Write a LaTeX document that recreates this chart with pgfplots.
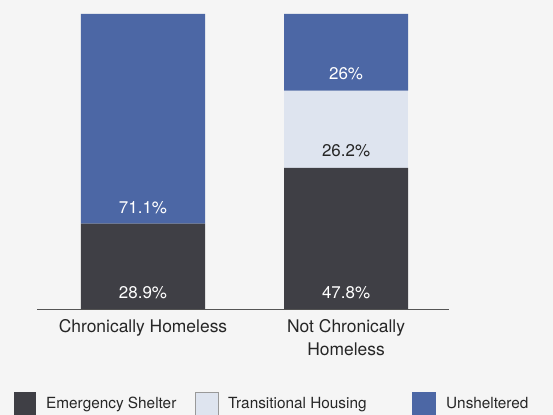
\documentclass[border=0pt]{standalone}
\usepackage{fontspec}
\setmainfont{TeX Gyre Heros}
\usepackage{pgfplots}
\pgfplotsset{compat=1.18}

\definecolor{shelter}{HTML}{3F3F45}
\definecolor{transit}{HTML}{DEE4EF}
\definecolor{unshelt}{HTML}{4C67A5}
\definecolor{bgcol}{HTML}{F5F5F5}
\definecolor{axisgray}{HTML}{555555}

\newcommand\labfont{\fontsize{15.4}{18}\selectfont}
\newcommand\valfont{\fontsize{17}{20}\selectfont}

\begin{document}
\begin{tikzpicture}
\path[use as bounding box] (-37bp,-106bp) rectangle (516bp,309bp);
\fill[bgcol] (-37bp,-106bp) rectangle (516bp,309bp);

\begin{axis}[
  scale only axis,
  width=412bp,
  height=295bp,
  ybar stacked,
  bar width=0.611,
  xmin=-0.522, xmax=1.507,
  ymin=0, ymax=100,
  axis y line=none,
  axis x line*=bottom,
  x axis line style={-, draw=axisgray, line width=1bp},
  xtick={0,1},
  xtick style={draw=none},
  xticklabels={Chronically Homeless, {Not Chronically\\Homeless}},
  xticklabel style={font=\fontsize{17.5}{23}\selectfont, align=center, text=black!85, yshift=-7bp},
  clip=false,
]

\addplot[fill=shelter, draw=none] coordinates {(0,28.9) (1,47.8)};
\addplot[fill=transit, draw=none] coordinates {(0,0) (1,26.2)};
\addplot[fill=unshelt, draw=none] coordinates {(0,71.1) (1,26)};

\coordinate (a1) at (axis cs:0,0);
\coordinate (a2) at (axis cs:0,28.9);
\coordinate (b1) at (axis cs:1,0);
\coordinate (b2) at (axis cs:1,47.8);
\coordinate (b3) at (axis cs:1,74);
\end{axis}

% segment labels
\node[anchor=base, white, font=\valfont, yshift=11bp] at (a1) {28.9\%};
\node[anchor=base, white, font=\valfont, yshift=10bp] at (a2) {71.1\%};
\node[anchor=base, white, font=\valfont, yshift=11bp] at (b1) {47.8\%};
\node[anchor=base, black!85, font=\valfont, yshift=11bp] at (b2) {26.2\%};
\node[anchor=base, white, font=\valfont, yshift=11bp] at (b3) {26\%};

% legend
\fill[shelter] (-23bp,-83bp) rectangle (-1bp,-106bp);
\node[anchor=base west, inner sep=0pt, font=\labfont, text=black!85] at (9bp,-99.5bp) {Emergency Shelter};
\filldraw[fill=transit, draw=gray!80, line width=0.8bp] (158bp,-83bp) rectangle (181bp,-106bp);
\node[anchor=base west, inner sep=0pt, font=\labfont, text=black!85] at (191bp,-99.5bp) {Transitional Housing};
\fill[unshelt] (375bp,-83bp) rectangle (399bp,-106bp);
\node[anchor=base west, inner sep=0pt, font=\labfont, text=black!85] at (409bp,-99.5bp) {Unsheltered};
\end{tikzpicture}
\end{document}
